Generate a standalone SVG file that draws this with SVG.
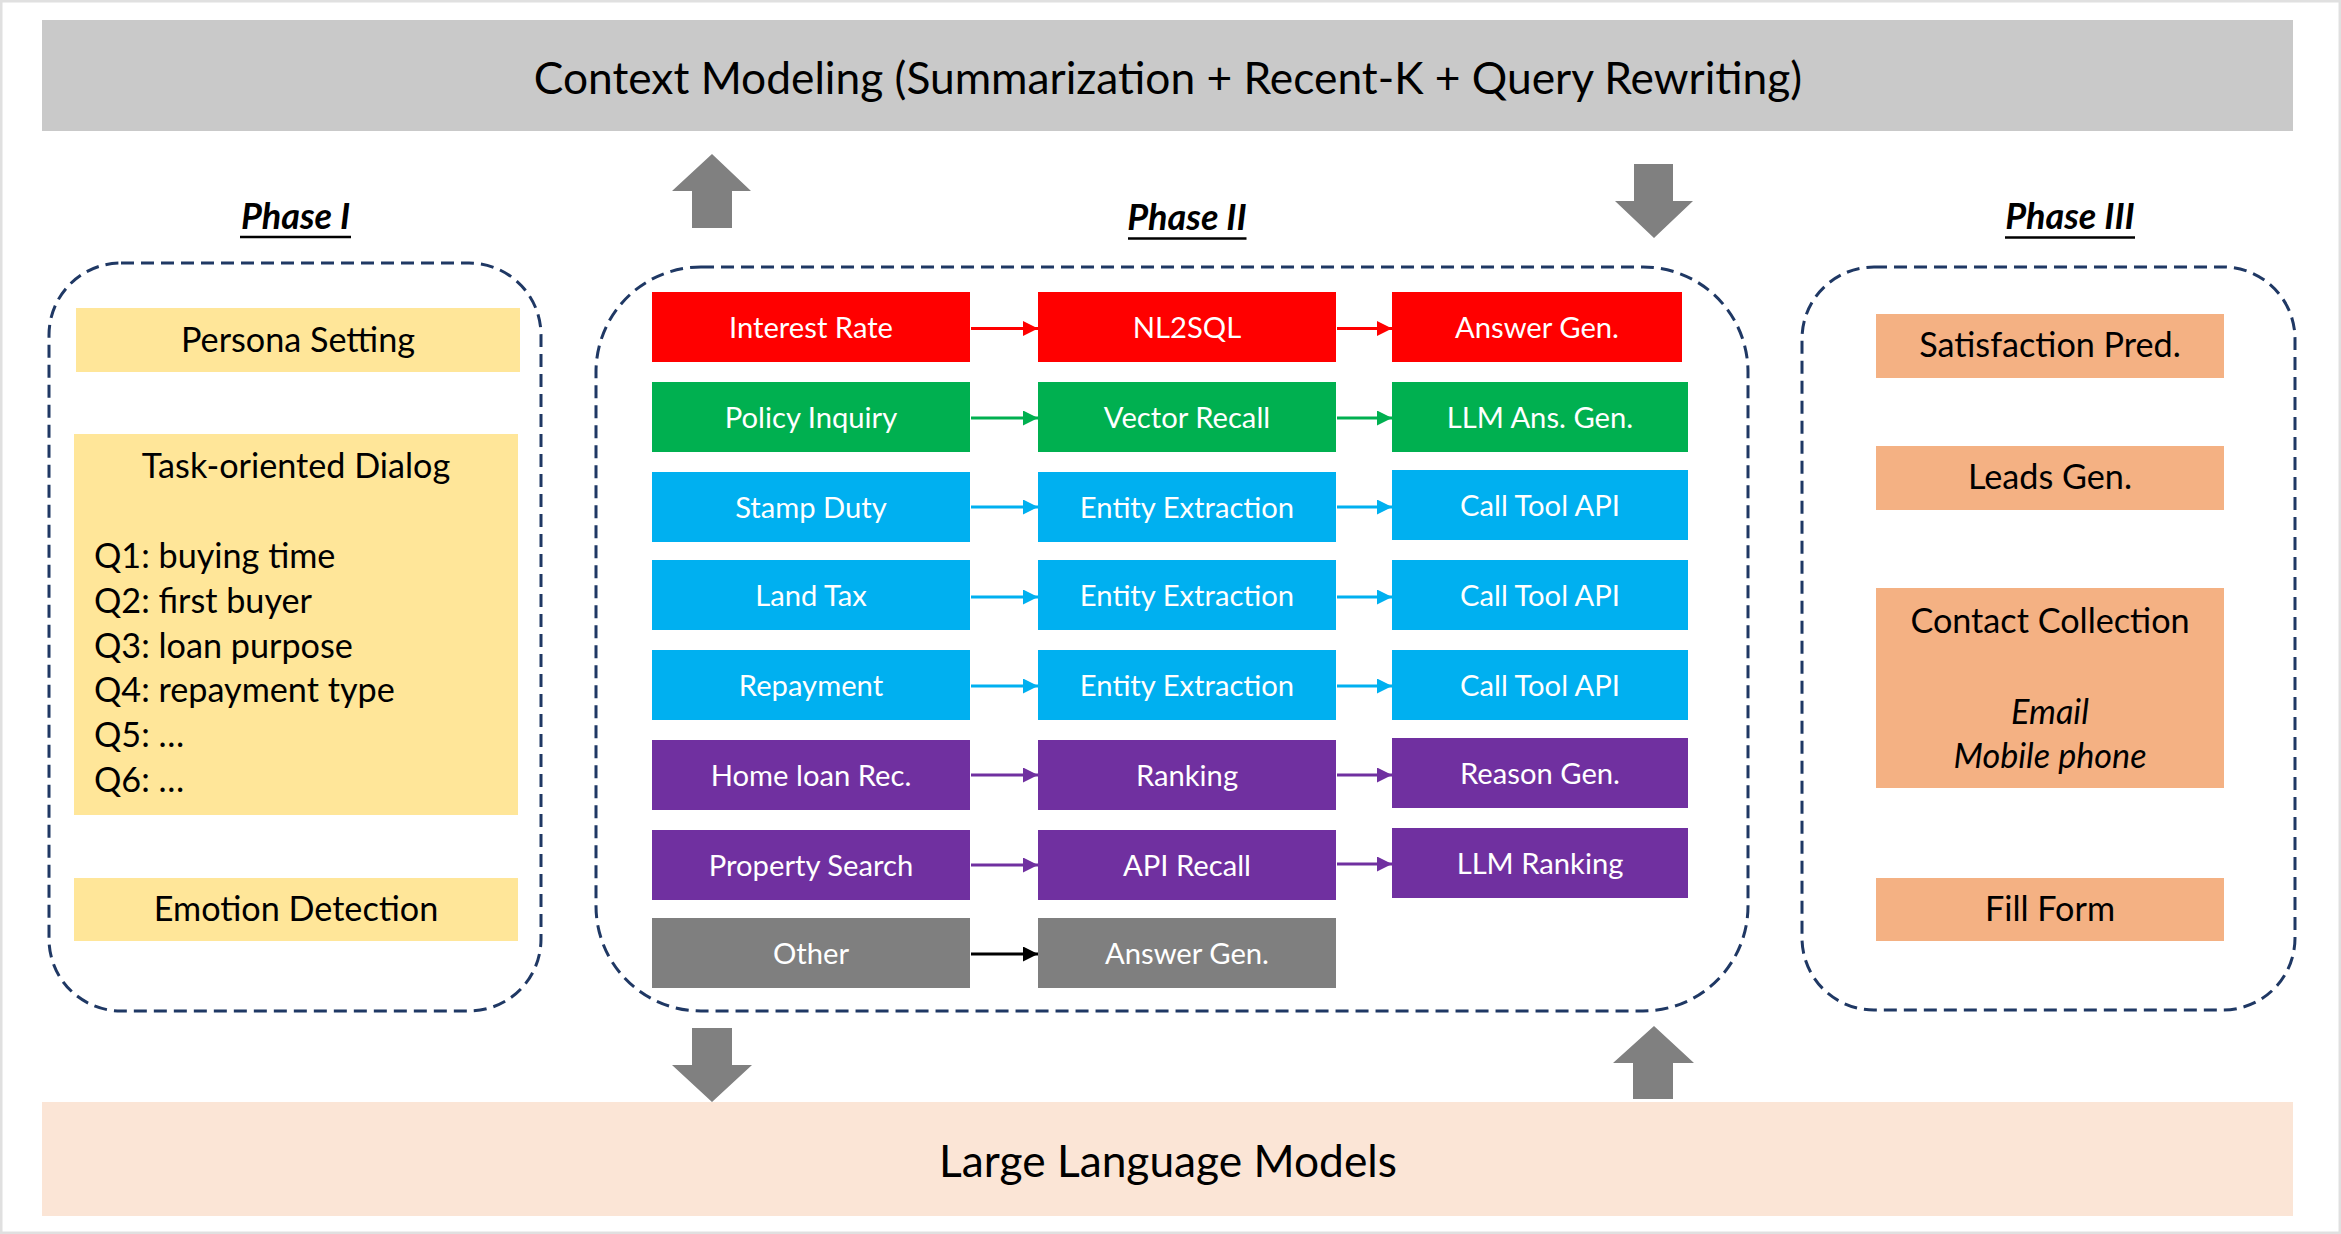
<svg xmlns="http://www.w3.org/2000/svg" width="2341" height="1234" viewBox="0 0 2341 1234">
<style>
text{font-family:Lato,"Liberation Sans",sans-serif}
.t{font-size:44.3px;fill:#000;text-anchor:middle}
.ph{font-size:36px;font-weight:bold;font-style:italic;fill:#000;text-anchor:middle}
.ul{stroke:#000;stroke-width:2.5}
.dash{fill:none;stroke:#1f3864;stroke-width:3;stroke-dasharray:13 7}
.y{fill:#ffe699}
.o{fill:#f4b183}
.lt{font-size:34.2px;fill:#000}
.c{text-anchor:middle}
.bt{font-size:29.2px;fill:#fff;text-anchor:middle}
.red{fill:#ff0000}.grn{fill:#00b050}.cyn{fill:#00b0f0}.pur{fill:#7030a0}.gry{fill:#7f7f7f}
.big{fill:#808080}
.a{stroke-width:3;fill:none}
</style>
<defs>
<marker id="mr" markerUnits="userSpaceOnUse" markerWidth="15" markerHeight="15" refX="15" refY="7.5" orient="auto"><path d="M0,0L15,7.5L0,15z" fill="#ff0000"/></marker>
<marker id="mg" markerUnits="userSpaceOnUse" markerWidth="15" markerHeight="15" refX="15" refY="7.5" orient="auto"><path d="M0,0L15,7.5L0,15z" fill="#00b050"/></marker>
<marker id="mc" markerUnits="userSpaceOnUse" markerWidth="15" markerHeight="15" refX="15" refY="7.5" orient="auto"><path d="M0,0L15,7.5L0,15z" fill="#00b0f0"/></marker>
<marker id="mp" markerUnits="userSpaceOnUse" markerWidth="15" markerHeight="15" refX="15" refY="7.5" orient="auto"><path d="M0,0L15,7.5L0,15z" fill="#7030a0"/></marker>
<marker id="mk" markerUnits="userSpaceOnUse" markerWidth="15" markerHeight="15" refX="15" refY="7.5" orient="auto"><path d="M0,0L15,7.5L0,15z" fill="#000"/></marker>
</defs>
<rect x="1.25" y="1.25" width="2338.5" height="1231.5" fill="#fff" stroke="#e0e0e0" stroke-width="2.5"/>

<g id="context-modeling">
<rect x="42" y="20" width="2251" height="111" fill="#c9c9c9"/>
<text class="t" x="1168" y="94">Context Modeling (Summarization + Recent-K + Query Rewriting)</text>
</g>
<g id="llm">
<rect x="42" y="1102" width="2251" height="114" fill="#fbe5d6"/>
<text class="t" x="1168" y="1177">Large Language Models</text>
</g>

<g id="big-arrows">
<path class="big" d="M712,154L751,191L732,191L732,228L692,228L692,191L672,191Z"/>
<path class="big" d="M1634,164L1673,164L1673,201L1693,201L1654,238L1615,201L1634,201Z"/>
<path class="big" d="M692,1028L732,1028L732,1065L752,1065L712,1102L672,1065L692,1065Z"/>
<path class="big" d="M1654,1026L1694,1063L1673,1063L1673,1099L1633,1099L1633,1063L1613,1063Z"/>
</g>

<g id="phase1">
<text class="ph" x="295.5" y="229">Phase I</text>
<line class="ul" x1="240" y1="237" x2="351" y2="237"/>
<rect class="dash" x="49" y="263" width="492" height="748" rx="72" ry="72"/>
<g id="persona-setting"><rect class="y" x="76" y="308" width="444" height="64"/><text class="lt c" x="298" y="351.5">Persona Setting</text></g>
<g id="task-dialog"><rect class="y" x="74" y="434" width="444" height="381"/>
<text class="lt c" x="296" y="478">Task-oriented Dialog</text>
<text class="lt" x="94" y="568">Q1: buying time</text>
<text class="lt" x="94" y="613">Q2: first buyer</text>
<text class="lt" x="94" y="658">Q3: loan purpose</text>
<text class="lt" x="94" y="702">Q4: repayment type</text>
<text class="lt" x="94" y="747">Q5: …</text>
<text class="lt" x="94" y="792">Q6: …</text>
</g>
<g id="emotion-detection"><rect class="y" x="74" y="878" width="444" height="63"/><text class="lt c" x="296" y="921">Emotion Detection</text></g>
</g>

<g id="phase2">
<text class="ph" x="1187" y="230">Phase II</text>
<line class="ul" x1="1128" y1="238.5" x2="1246.5" y2="238.5"/>
<rect class="dash" x="596" y="267" width="1152" height="744" rx="105" ry="105"/>
<g id="interest-rate"><rect class="red" x="652" y="292" width="318" height="70"/><text class="bt" x="811" y="338">Interest Rate</text></g>
<g id="nl2sql"><rect class="red" x="1038" y="292" width="298" height="70"/><text class="bt" x="1187" y="338">NL2SQL</text></g>
<g id="answer-gen-1"><rect class="red" x="1392" y="292" width="290" height="70"/><text class="bt" x="1537" y="338">Answer Gen.</text></g>

<g id="policy-inquiry"><rect class="grn" x="652" y="382" width="318" height="70"/><text class="bt" x="811" y="428">Policy Inquiry</text></g>
<g id="vector-recall"><rect class="grn" x="1038" y="382" width="298" height="70"/><text class="bt" x="1187" y="428">Vector Recall</text></g>
<g id="llm-ans-gen"><rect class="grn" x="1392" y="382" width="296" height="70"/><text class="bt" x="1540" y="428">LLM Ans. Gen.</text></g>

<g id="stamp-duty"><rect class="cyn" x="652" y="472" width="318" height="70"/><text class="bt" x="811" y="518">Stamp Duty</text></g>
<g id="entity-extraction-1"><rect class="cyn" x="1038" y="472" width="298" height="70"/><text class="bt" x="1187" y="518">Entity Extraction</text></g>
<g id="call-tool-api-1"><rect class="cyn" x="1392" y="470" width="296" height="70"/><text class="bt" x="1540" y="516">Call Tool API</text></g>

<g id="land-tax"><rect class="cyn" x="652" y="560" width="318" height="70"/><text class="bt" x="811" y="606">Land Tax</text></g>
<g id="entity-extraction-2"><rect class="cyn" x="1038" y="560" width="298" height="70"/><text class="bt" x="1187" y="606">Entity Extraction</text></g>
<g id="call-tool-api-2"><rect class="cyn" x="1392" y="560" width="296" height="70"/><text class="bt" x="1540" y="606">Call Tool API</text></g>

<g id="repayment"><rect class="cyn" x="652" y="650" width="318" height="70"/><text class="bt" x="811" y="696">Repayment</text></g>
<g id="entity-extraction-3"><rect class="cyn" x="1038" y="650" width="298" height="70"/><text class="bt" x="1187" y="696">Entity Extraction</text></g>
<g id="call-tool-api-3"><rect class="cyn" x="1392" y="650" width="296" height="70"/><text class="bt" x="1540" y="696">Call Tool API</text></g>

<g id="home-loan-rec"><rect class="pur" x="652" y="740" width="318" height="70"/><text class="bt" x="811" y="786">Home loan Rec.</text></g>
<g id="ranking"><rect class="pur" x="1038" y="740" width="298" height="70"/><text class="bt" x="1187" y="786">Ranking</text></g>
<g id="reason-gen"><rect class="pur" x="1392" y="738" width="296" height="70"/><text class="bt" x="1540" y="784">Reason Gen.</text></g>

<g id="property-search"><rect class="pur" x="652" y="830" width="318" height="70"/><text class="bt" x="811" y="876">Property Search</text></g>
<g id="api-recall"><rect class="pur" x="1038" y="830" width="298" height="70"/><text class="bt" x="1187" y="876">API Recall</text></g>
<g id="llm-ranking"><rect class="pur" x="1392" y="828" width="296" height="70"/><text class="bt" x="1540" y="874">LLM Ranking</text></g>

<g id="other"><rect class="gry" x="652" y="918" width="318" height="70"/><text class="bt" x="811" y="964">Other</text></g>
<g id="answer-gen-2"><rect class="gry" x="1038" y="918" width="298" height="70"/><text class="bt" x="1187" y="964">Answer Gen.</text></g>
</g>

<g id="connectors">
<line class="a" x1="971" y1="328.5" x2="1038" y2="328.5" stroke="#ff0000" marker-end="url(#mr)"/>
<line class="a" x1="1337" y1="328.5" x2="1392" y2="328.5" stroke="#ff0000" marker-end="url(#mr)"/>
<line class="a" x1="971" y1="418" x2="1038" y2="418" stroke="#00b050" marker-end="url(#mg)"/>
<line class="a" x1="1337" y1="418" x2="1392" y2="418" stroke="#00b050" marker-end="url(#mg)"/>
<line class="a" x1="971" y1="507" x2="1038" y2="507" stroke="#00b0f0" marker-end="url(#mc)"/>
<line class="a" x1="1337" y1="507" x2="1392" y2="507" stroke="#00b0f0" marker-end="url(#mc)"/>
<line class="a" x1="971" y1="597" x2="1038" y2="597" stroke="#00b0f0" marker-end="url(#mc)"/>
<line class="a" x1="1337" y1="597" x2="1392" y2="597" stroke="#00b0f0" marker-end="url(#mc)"/>
<line class="a" x1="971" y1="686" x2="1038" y2="686" stroke="#00b0f0" marker-end="url(#mc)"/>
<line class="a" x1="1337" y1="686" x2="1392" y2="686" stroke="#00b0f0" marker-end="url(#mc)"/>
<line class="a" x1="971" y1="775" x2="1038" y2="775" stroke="#7030a0" marker-end="url(#mp)"/>
<line class="a" x1="1337" y1="775" x2="1392" y2="775" stroke="#7030a0" marker-end="url(#mp)"/>
<line class="a" x1="971" y1="865" x2="1038" y2="865" stroke="#7030a0" marker-end="url(#mp)"/>
<line class="a" x1="1337" y1="864" x2="1392" y2="864" stroke="#7030a0" marker-end="url(#mp)"/>
<line class="a" x1="971" y1="954" x2="1038" y2="954" stroke="#000" marker-end="url(#mk)"/>
</g>

<g id="phase3">
<text class="ph" x="2070" y="229">Phase III</text>
<line class="ul" x1="2005" y1="237.5" x2="2135" y2="237.5"/>
<rect class="dash" x="1802" y="267" width="493" height="743" rx="72" ry="72"/>
<g id="satisfaction-pred"><rect class="o" x="1876" y="314" width="348" height="64"/><text class="lt c" x="2050" y="357">Satisfaction Pred.</text></g>
<g id="leads-gen"><rect class="o" x="1876" y="446" width="348" height="64"/><text class="lt c" x="2050" y="489">Leads Gen.</text></g>
<g id="contact-collection"><rect class="o" x="1876" y="588" width="348" height="200"/>
<text class="lt c" x="2050" y="633">Contact Collection</text>
<text class="lt c" x="2050" y="724" font-style="italic">Email</text>
<text class="lt c" x="2050" y="768" font-style="italic">Mobile phone</text>
</g>
<g id="fill-form"><rect class="o" x="1876" y="878" width="348" height="63"/><text class="lt c" x="2050" y="921">Fill Form</text></g>
</g>
</svg>
